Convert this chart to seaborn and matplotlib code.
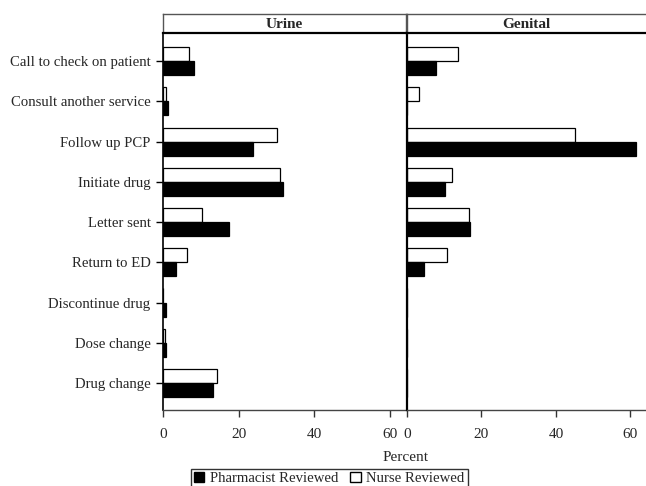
import matplotlib
matplotlib.use("Agg")
import matplotlib.pyplot as plt
from matplotlib.patches import Patch
import seaborn as sns
import pandas as pd

categories = [
    "Call to check on patient", "Consult another service", "Follow up PCP",
    "Initiate drug", "Letter sent", "Return to ED", "Discontinue drug",
    "Dose change", "Drug change",
]
panels = ["Urine", "Genital"]
urine_pharmacist = [8.1, 1.2, 23.7, 31.7, 17.4, 3.5, 0.9, 0.9, 13.3]
urine_nurse = [6.9, 0.9, 30.0, 30.9, 10.4, 6.4, 0.0, 0.4, 14.2]
genital_pharmacist = [7.9, 0.0, 61.5, 10.2, 17.0, 4.7, 0.0, 0.0, 0.0]
genital_nurse = [13.6, 3.1, 45.0, 12.0, 16.6, 10.7, 0.0, 0.0, 0.0]
groups = ["Nurse Reviewed", "Pharmacist Reviewed"]
x_ticks = [0, 20, 40, 60]

rows = []
for panel, pharm, nurse in [("Urine", urine_pharmacist, urine_nurse),
                            ("Genital", genital_pharmacist, genital_nurse)]:
    for c, p, n in zip(categories, pharm, nurse):
        rows.append(dict(panel=panel, action=c, group="Pharmacist Reviewed", pct=p))
        rows.append(dict(panel=panel, action=c, group="Nurse Reviewed", pct=n))
df = pd.DataFrame(rows)

sns.set_theme(style="white")
plt.rcParams["font.family"] = ["Liberation Serif", "DejaVu Serif"]

W, H = 646, 486
fig = plt.figure(figsize=(W / 100, H / 100), dpi=100)

def fx(px):
    return px / W

def fy(py):
    return 1 - py / H

plot_top, plot_bot, strip_top = 33, 410, 14
lefts = [163, 407]
rights = [406, 646]
palette = {"Pharmacist Reviewed": "black", "Nurse Reviewed": "white"}

for i, panel in enumerate(panels):
    ax = fig.add_axes([fx(lefts[i]), fy(plot_bot), fx(rights[i] - lefts[i]),
                       fy(plot_top) - fy(plot_bot)])
    sub = df[df.panel == panel]
    sns.barplot(data=sub, y="action", x="pct", hue="group", hue_order=groups,
                order=categories, palette=palette, orient="h", width=0.7,
                edgecolor="black", linewidth=0.9, legend=False, ax=ax)
    ax.set_xlim(0, 64.2)
    ax.set_ylim(len(categories) - 1 + 0.67, -0.70)
    ax.set_xticks(x_ticks)
    ax.set_xticklabels([str(t) for t in x_ticks], fontsize=11)
    ax.tick_params(axis="x", direction="out", length=5, width=1, color="#333333",
                   pad=8, bottom=True)
    ax.set_xlabel("")
    ax.set_ylabel("")
    for s in ["top", "right"]:
        ax.spines[s].set_visible(False)
    ax.spines["bottom"].set_color("#444444")
    ax.spines["bottom"].set_linewidth(1.0)
    ax.spines["left"].set_color("black")
    ax.spines["left"].set_linewidth(1.6 if i == 1 else 1.2)
    if i == 0:
        ax.set_yticks(range(len(categories)))
        ax.set_yticklabels(categories, fontsize=10.6)
        ax.tick_params(axis="y", direction="out", length=5, width=1,
                       color="black", pad=4, left=True)
    else:
        ax.set_yticks([])
    ax.patch.set_alpha(0)

    # panel header strip
    sax = fig.add_axes([fx(lefts[i]), fy(plot_top), fx(rights[i] - lefts[i]),
                        fy(strip_top) - fy(plot_top)])
    sax.set_xticks([])
    sax.set_yticks([])
    for s in sax.spines.values():
        s.set_color("#555555")
        s.set_linewidth(1.0)
    sax.spines["bottom"].set_color("black")
    sax.spines["bottom"].set_linewidth(1.6)
    if i == 1:
        sax.spines["right"].set_visible(False)
    sax.text(0.5, 0.45, panel, ha="center", va="center", fontsize=11,
             fontweight="bold", transform=sax.transAxes)

fig.text(fx(406), fy(457), "Percent", ha="center", va="center", fontsize=11)

handles = [Patch(facecolor="black", edgecolor="black", label="Pharmacist Reviewed"),
           Patch(facecolor="white", edgecolor="black", label="Nurse Reviewed")]
leg = fig.legend(handles=handles, loc="upper left",
                 bbox_to_anchor=(fx(191), fy(469)), ncol=2, frameon=True,
                 fontsize=10.6, handlelength=0.7, handleheight=0.7,
                 handletextpad=0.4, columnspacing=0.8, borderpad=0.2,
                 borderaxespad=0)
leg.get_frame().set_edgecolor("black")
leg.get_frame().set_linewidth(1.0)
leg.get_frame().set_boxstyle("square", pad=0)

fig.savefig("out.png", dpi=100)
